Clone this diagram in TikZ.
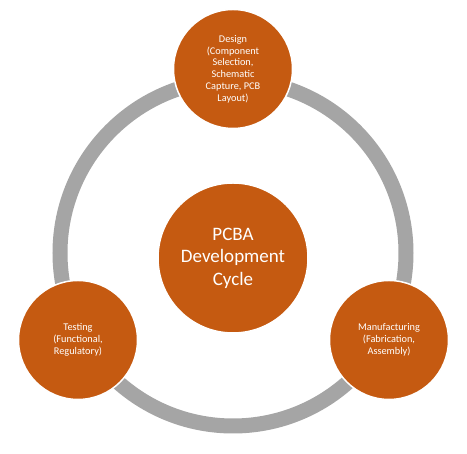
\documentclass[tikz,border=0pt]{standalone}
\usepackage{fontspec}
\setmainfont{Carlito}
\usepackage{tikz}
\usetikzlibrary{positioning, calc}
\definecolor{rust}{HTML}{C55A11}
\definecolor{ringgray}{HTML}{A5A5A5}
\tikzset{
  disc/.style     = {circle, fill=rust, draw=white, line width=1.5pt, align=center,
                     text=white, inner sep=0pt},
  hubdisc/.style  = {disc, minimum size=150pt, font=\fontsize{19}{22.5}\selectfont},
  stepdisc/.style = {disc, minimum size=119pt, font=\fontsize{10.3}{11.8}\selectfont},
  ringline/.style = {draw=ringgray, line width=15pt},
}

\begin{document}
\begin{tikzpicture}[x=1pt, y=1pt]
  \useasboundingbox[fill=white] (0,0) rectangle (467,454);
  \coordinate (hub) at (233,201);
  \draw[ringline] (hub) circle[radius=173pt];

  \node[hubdisc] (core) at (233,196) {PCBA\\Development\\Cycle};
  \node[stepdisc] (design) at (233,385)
    {Design\\(Component\\Selection,\\Schematic\\Capture, PCB\\Layout)};
  \node[stepdisc] (making) at (389,114)
    {Manufacturing\\(Fabrication,\\Assembly)};
  \node[stepdisc] (testing) at (78,114)
    {Testing\\(Functional,\\Regulatory)};
\end{tikzpicture}
\end{document}
